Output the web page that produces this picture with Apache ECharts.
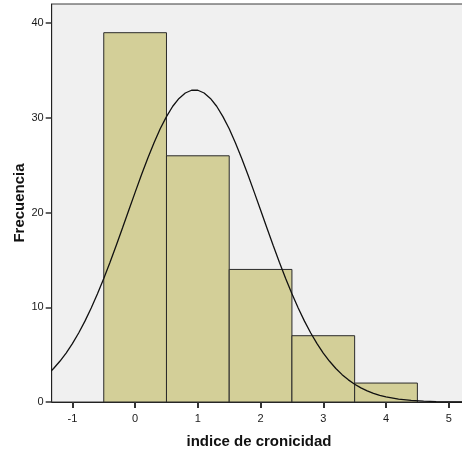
<!DOCTYPE html>
<html>
<head>
<meta charset="utf-8">
<script src="https://cdn.jsdelivr.net/npm/echarts@6/dist/echarts.min.js"></script>
<style>
  html, body { margin: 0; padding: 0; background: #ffffff; }
  #chart { width: 462px; height: 450px; }
</style>
</head>
<body>
<div id="chart"></div>
<script>
// Histogram bins of "indice de cronicidad" (bin centres, width 1)
const binCenters = [0, 1, 2, 3, 4];
const binCounts = [39, 26, 14, 7, 2];
const binWidth = 1;

// Fitted normal curve overlay (x, frequency); clipped to the axis range
const curveX = [-1.4, -1.3, -1.2, -1.1, -1.0, -0.9, -0.8, -0.7, -0.6, -0.5, -0.4, -0.3, -0.2, -0.1,
                0.0, 0.1, 0.2, 0.3, 0.4, 0.5, 0.6, 0.7, 0.8, 0.9, 1.0, 1.1, 1.2, 1.3, 1.4,
                1.5, 1.6, 1.7, 1.8, 1.9, 2.0, 2.1, 2.2, 2.3, 2.4, 2.5, 2.6, 2.7, 2.8, 2.9,
                3.0, 3.1, 3.2, 3.3, 3.4, 3.5, 3.6, 3.7, 3.8, 3.9, 4.0, 4.2, 4.4, 4.6, 4.8,
                5.0, 5.2, 5.4];
const curveY = [2.89, 3.54, 4.30, 5.17, 6.17, 7.29, 8.54, 9.93, 11.43, 13.05, 14.76, 16.55, 18.40, 20.27,
                22.14, 23.97, 25.72, 27.36, 28.85, 30.14, 31.23, 32.06, 32.63, 32.92, 32.92, 32.63, 32.06, 31.23, 30.14,
                28.85, 27.36, 25.72, 23.97, 22.14, 20.27, 18.40, 16.55, 14.76, 13.05, 11.43, 9.93, 8.54, 7.29, 6.17,
                5.17, 4.30, 3.54, 2.89, 2.34, 1.88, 1.49, 1.18, 0.92, 0.71, 0.55, 0.31, 0.17, 0.09, 0.05,
                0.02, 0.01, 0.0];

// Axis tick labels
const xTicks = [-1, 0, 1, 2, 3, 4, 5];
const yTicks = [0, 10, 20, 30, 40];

const chart = echarts.init(document.getElementById('chart'), null, { renderer: 'canvas' });

const histData = binCenters.map((c, i) => [c - binWidth / 2, c + binWidth / 2, binCounts[i]]);
const curveData = curveX.map((x, i) => [x, curveY[i]]);

const labelFont = { fontFamily: 'Liberation Sans, Arial, sans-serif', fontSize: 11, color: '#1a1a1a' };

chart.setOption({
  animation: false,
  backgroundColor: '#ffffff',
  grid: {
    left: 51.7, top: 4, width: 414.6, height: 398,
    outerBoundsMode: 'none', containLabel: false,
    show: true, backgroundColor: '#f0f0f0', borderColor: '#3a3a3a', borderWidth: 1
  },
  xAxis: {
    type: 'value',
    min: -1.33, max: 5.28,
    interval: 1,
    name: 'indice de cronicidad',
    nameLocation: 'middle',
    nameGap: 32,
    nameMoveOverlap: false,
    nameTextStyle: { fontFamily: 'Liberation Sans, Arial, sans-serif', fontSize: 15, fontWeight: 'bold', color: '#111' },
    axisLine: { show: true, onZero: false, lineStyle: { color: '#222', width: 1 } },
    axisTick: { show: true, length: 6, lineStyle: { color: '#333', width: 2 },
      customValues: xTicks },
    axisLabel: Object.assign({ margin: 11, customValues: xTicks, formatter: v => String(v) }, labelFont),
    splitLine: { show: false }
  },
  yAxis: {
    type: 'value',
    min: 0, max: 42.03,
    interval: 10,
    name: 'Frecuencia',
    nameLocation: 'middle',
    nameGap: 24,
    nameMoveOverlap: false,
    nameRotate: 90,
    nameTextStyle: { fontFamily: 'Liberation Sans, Arial, sans-serif', fontSize: 15, fontWeight: 'bold', color: '#111' },
    axisLine: { show: true, onZero: false, lineStyle: { color: '#222', width: 1 } },
    axisTick: { show: true, length: 6, lineStyle: { color: '#333', width: 1.5 },
      customValues: yTicks },
    axisLabel: Object.assign({ margin: 8, customValues: yTicks }, labelFont),
    splitLine: { show: false }
  },
  series: [
    {
      type: 'custom',
      data: histData,
      encode: { x: [0, 1], y: 2 },
      renderItem: function (params, api) {
        const p0 = api.coord([api.value(0), 0]);
        const p1 = api.coord([api.value(1), api.value(2)]);
        return {
          type: 'rect',
          shape: { x: p0[0], y: p1[1], width: p1[0] - p0[0], height: p0[1] - p1[1] },
          style: { fill: '#d3cf98', stroke: '#2a2a2a', lineWidth: 1 }
        };
      },
      z: 2
    },
    {
      type: 'line',
      data: curveData,
      smooth: false,
      symbol: 'none',
      clip: true,
      lineStyle: { color: '#111', width: 1.3 },
      z: 3
    }
  ]
});
</script>
</body>
</html>
